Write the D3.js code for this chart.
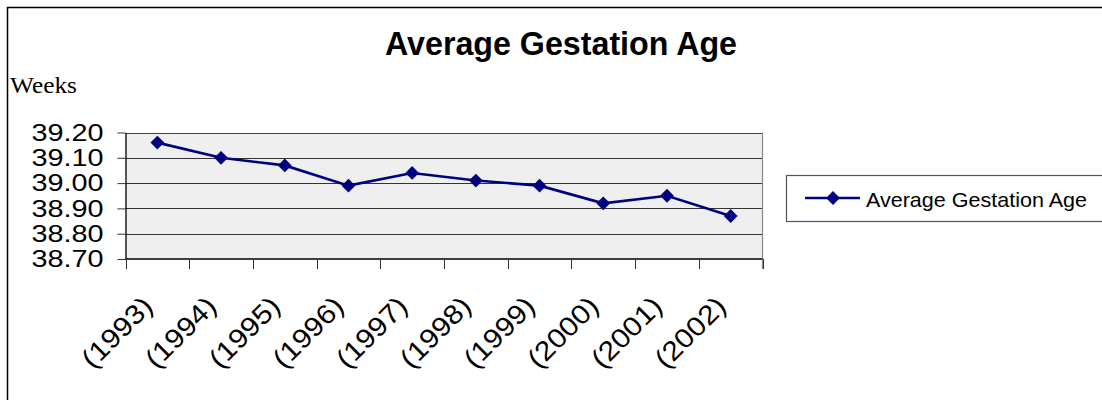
<!DOCTYPE html>
<html>
<head>
<meta charset="utf-8">
<script src="https://cdn.jsdelivr.net/npm/d3@7"></script>
<style>
  html, body { margin: 0; padding: 0; background: #fff; }
  svg { display: block; }
</style>
</head>
<body>
<svg id="chart" width="1102" height="400"></svg>
<script>
const categories = ["(1993)", "(1994)", "(1995)", "(1996)", "(1997)", "(1998)", "(1999)", "(2000)", "(2001)", "(2002)"];
const values = [39.16, 39.10, 39.07, 38.99, 39.04, 39.01, 38.99, 38.92, 38.95, 38.87];
const yTicks = [38.70, 38.80, 38.90, 39.00, 39.10, 39.20];
const seriesName = "Average Gestation Age";
const titleText = "Average Gestation Age";
const yAxisTitle = "Weeks";

const svg = d3.select("#chart");
const navy = "#000080";

// outer border (top and left)
svg.append("path")
  .attr("d", "M7.5,400 L7.5,7.5 L1102,7.5")
  .attr("fill", "none").attr("stroke", "#000").attr("stroke-width", 1.5);

const plot = { left: 125.5, right: 762.5, top: 132.5, bottom: 259 };

const x = d3.scaleBand().domain(categories).range([plot.left, plot.right]).padding(0);
const y = d3.scaleLinear().domain([38.7, 39.2]).range([plot.bottom, plot.top]);

// plot background
svg.append("rect")
  .attr("x", plot.left).attr("y", plot.top)
  .attr("width", plot.right - plot.left).attr("height", plot.bottom - plot.top)
  .attr("fill", "#efefef");

// gridlines
svg.append("g").selectAll("line")
  .data(yTicks.filter(t => t > 38.7))
  .join("line")
  .attr("x1", plot.left).attr("x2", plot.right)
  .attr("y1", d => Math.round(y(d)) + 0.5).attr("y2", d => Math.round(y(d)) + 0.5)
  .attr("stroke", d => d === 39.2 ? "#444" : "#333").attr("stroke-width", 1);

// right border of plot
svg.append("line")
  .attr("x1", plot.right).attr("x2", plot.right)
  .attr("y1", plot.top).attr("y2", plot.bottom + 10)
  .attr("stroke", "#888").attr("stroke-width", 1.2);

// y axis
const yAxis = svg.append("g")
  .attr("transform", `translate(${plot.left},0)`)
  .call(d3.axisLeft(y).tickValues(yTicks).tickSize(8).tickSizeOuter(0).tickPadding(14).tickFormat(d3.format(".2f")));
yAxis.select(".domain").attr("stroke", "#000").attr("stroke-width", 1.3);
yAxis.selectAll(".tick line").attr("stroke", "#333").attr("stroke-width", 1);
yAxis.selectAll(".tick text")
  .attr("font-family", "Liberation Sans, Arial, sans-serif")
  .attr("font-size", 24)
  .attr("fill", "#000")
  .each(function () {
    const len = this.getComputedTextLength();
    d3.select(this).attr("textLength", len * 1.2).attr("lengthAdjust", "spacingAndGlyphs");
  });

// x axis line
svg.append("line")
  .attr("x1", plot.left).attr("x2", plot.right)
  .attr("y1", plot.bottom).attr("y2", plot.bottom)
  .attr("stroke", "#000").attr("stroke-width", 1.3);

// x ticks at band boundaries
const boundaries = categories.map(c => x(c)).concat([x.range()[1]]);
svg.append("g").selectAll("line")
  .data(boundaries)
  .join("line")
  .attr("x1", d => Math.round(d) + 0.5).attr("x2", d => Math.round(d) + 0.5)
  .attr("y1", plot.bottom).attr("y2", plot.bottom + 10)
  .attr("stroke", "#333").attr("stroke-width", 1);

// x labels
svg.append("g").selectAll("text")
  .data(categories)
  .join("text")
  .attr("transform", d => `translate(${x(d) + x.bandwidth() / 2 - 3},${plot.bottom + 49}) rotate(-45)`)
  .attr("text-anchor", "end")
  .attr("font-family", "Liberation Sans, Arial, sans-serif")
  .attr("font-size", 27)
  .attr("fill", "#000")
  .text(d => d)
  .each(function () {
    const len = this.getComputedTextLength();
    d3.select(this).attr("textLength", len * 1.12).attr("lengthAdjust", "spacingAndGlyphs");
  });

// line
const line = d3.line()
  .x((d, i) => x(categories[i]) + x.bandwidth() / 2)
  .y(d => y(d));
svg.append("path")
  .datum(values)
  .attr("d", line)
  .attr("fill", "none")
  .attr("stroke", navy)
  .attr("stroke-width", 2.6);

// markers
svg.append("g").selectAll("path")
  .data(values)
  .join("path")
  .attr("transform", (d, i) => `translate(${x(categories[i]) + x.bandwidth() / 2},${y(d)}) rotate(45)`)
  .attr("d", d3.symbol().type(d3.symbolSquare).size(95))
  .attr("fill", navy);

// title
svg.append("text")
  .attr("x", 561).attr("y", 55)
  .attr("text-anchor", "middle")
  .attr("font-family", "Liberation Sans, Arial, sans-serif")
  .attr("font-weight", "bold")
  .attr("font-size", 34)
  .attr("textLength", 352).attr("lengthAdjust", "spacingAndGlyphs")
  .attr("fill", "#000")
  .text(titleText);

// y axis title
svg.append("text")
  .attr("x", 10).attr("y", 93)
  .attr("font-family", "Liberation Serif, Times New Roman, serif")
  .attr("font-size", 22.5)
  .attr("textLength", 67).attr("lengthAdjust", "spacingAndGlyphs")
  .attr("fill", "#000")
  .text(yAxisTitle);

// legend
const lg = svg.append("g");
lg.append("rect")
  .attr("x", 786.5).attr("y", 175.5).attr("width", 320).attr("height", 46)
  .attr("fill", "#fff").attr("stroke", "#555").attr("stroke-width", 1.2);
lg.append("line")
  .attr("x1", 805).attr("x2", 860).attr("y1", 198).attr("y2", 198)
  .attr("stroke", navy).attr("stroke-width", 2.6);
lg.append("path")
  .attr("transform", "translate(833,198) rotate(45)")
  .attr("d", d3.symbol().type(d3.symbolSquare).size(95))
  .attr("fill", navy);
lg.append("text")
  .attr("x", 866).attr("y", 206.5)
  .attr("font-family", "Liberation Sans, Arial, sans-serif")
  .attr("font-size", 21)
  .attr("textLength", 221).attr("lengthAdjust", "spacingAndGlyphs")
  .attr("fill", "#000")
  .text(seriesName);
</script>
</body>
</html>
